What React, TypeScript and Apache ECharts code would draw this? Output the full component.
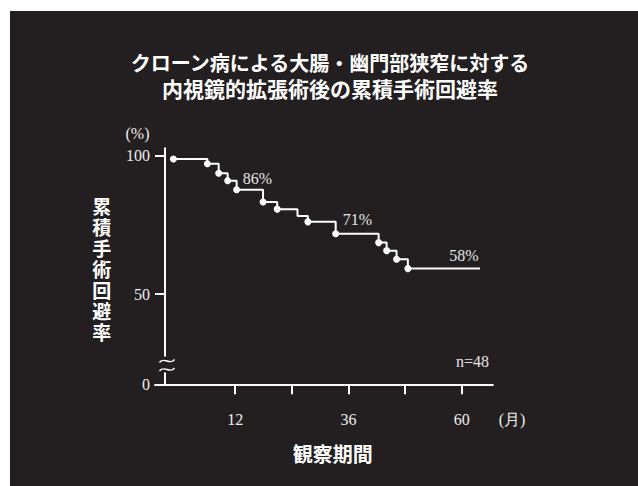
import React, { useEffect, useRef } from "react";
import * as echarts from "echarts";

// ---- data ----
const titleLines = ["クローン病による大腸・幽門部狭窄に対する", "内視鏡的拡張術後の累積手術回避率"];
const yAxisTitle = "累積手術回避率";
const xAxisTitle = "観察期間";
const yUnit = "(%)";
const xUnit = "(月)";

// step curve (months, %)
const curveMonths = [-1.1, 6.1, 8.5, 10.4, 12.3, 17.9, 20.9, 25.2, 27.4, 33.3, 42.4, 44.1, 46.2, 48.6, 63.9];
const curveValues = [98.8, 97.1, 93.7, 91.0, 87.7, 83.3, 80.7, 78.2, 76.1, 71.8, 68.6, 65.7, 62.6, 59.2, 59.2];
// event dots
const dotMonths = [-1.1, 6.1, 8.5, 10.4, 12.3, 17.9, 20.9, 27.4, 33.3, 42.4, 44.1, 46.2, 48.6];
const dotValues = [98.8, 97.1, 93.7, 91.0, 87.7, 83.3, 80.7, 76.1, 71.8, 68.6, 65.7, 62.6, 59.2];

// annotations
const noteTexts = ["86%", "71%", "58%", "n=48"];
const noteMonths = [16.7, 37.9, 60.5, 62.3];
const noteValues = [91.8, 77.0, 64.1, 25.5];

// ticks
const xTickValues = [12, 24, 36, 48, 60];
const xLabelValues = [12, 36, 60];
const yTickValues = [50, 100];
const yLabelValues = [0, 50, 100];

const X_MIN = -5;
const X_MAX = 66.6;
const Y_BREAK_MIN = 17.37; // axis bottom shown as "0" (broken axis)
const Y_MAX = 102.7;

const BG = "#231f20";
const FG = "#ffffff";
const SERIF = "'Liberation Serif', 'Times New Roman', serif";
const CJK = "'Noto Sans CJK JP', 'Noto Sans', sans-serif";

export default function App() {
  const ref = useRef<HTMLDivElement>(null);

  useEffect(() => {
    if (!ref.current) return;
    const chart = echarts.init(ref.current, null, { renderer: "svg" });

    const yLabelPos = yLabelValues.map((v) => (v === 0 ? Y_BREAK_MIN : v));

    const tilde = (cy: number) => ({
      type: "bezierCurve",
      z: 101,
      shape: { x1: 149.5, y1: cy + 1.5, cpx1: 154, cpy1: cy - 5, cpx2: 160, cpy2: cy + 5, x2: 164.5, y2: cy - 1.5 },
      style: { stroke: FG, lineWidth: 1.5, fill: null },
    });

    const yTitleChars = yAxisTitle.split("").map((ch, i) => ({
      type: "text",
      z: 100,
      style: {
        text: ch,
        x: 91.7,
        y: 194.5 + i * 21,
        align: "center",
        verticalAlign: "middle",
        lineHeight: 20,
        fill: FG,
        font: `bold 19px ${CJK}`,
      },
    }));

    chart.setOption({
      animation: false,
      backgroundColor: BG,
      grid: { left: 145, top: 137.3, width: 337.8, height: 236 },
      xAxis: {
        type: "value",
        min: X_MIN,
        max: X_MAX,
        axisLine: { show: true, onZero: false, lineStyle: { color: FG, width: 2 } },
        axisTick: { show: true, customValues: xTickValues, length: 10, lineStyle: { color: FG, width: 2 } },
        axisLabel: {
          show: true,
          customValues: xLabelValues,
          margin: 27,
          color: "#eeeeee",
          fontSize: 16,
          fontFamily: SERIF,
        },
        splitLine: { show: false },
      },
      yAxis: {
        type: "value",
        min: Y_BREAK_MIN,
        max: Y_MAX,
        offset: -10,
        axisLine: { show: true, onZero: false, lineStyle: { color: FG, width: 2 } },
        axisTick: { show: true, customValues: yTickValues, length: 10, lineStyle: { color: FG, width: 2 } },
        axisLabel: {
          show: true,
          customValues: yLabelPos,
          margin: 15,
          color: "#eeeeee",
          fontSize: 16,
          fontFamily: SERIF,
          formatter: (v: number) => (v < 20 ? String(yLabelValues[0]) : String(Math.round(v))),
        },
        splitLine: { show: false },
      },
      series: [
        {
          type: "line",
          step: "end",
          data: curveMonths.map((m, i) => [m, curveValues[i]]),
          showSymbol: false,
          lineStyle: { color: FG, width: 2 },
          z: 3,
        },
        {
          type: "scatter",
          data: dotMonths.map((m, i) => [m, dotValues[i]]),
          symbolSize: 7,
          itemStyle: { color: FG, opacity: 1 },
          z: 4,
          markPoint: {
            symbol: "circle",
            symbolSize: 0,
            data: noteTexts.map((t, i) => ({ name: t, coord: [noteMonths[i], noteValues[i]] })),
            label: {
              show: true,
              position: "inside",
              formatter: (p: any) => p.name,
              color: "#e6e6e6",
              fontSize: 16,
              fontFamily: SERIF,
            },
          },
        },
      ],
      graphic: [
        {
          type: "text",
          z: 100,
          style: {
            text: titleLines[0],
            x: 320,
            y: 51,
            align: "center",
            verticalAlign: "middle",
            fill: FG,
            font: `bold 20px ${CJK}`,
          },
        },
        {
          type: "text",
          z: 100,
          style: {
            text: titleLines[1],
            x: 320,
            y: 77,
            align: "center",
            verticalAlign: "middle",
            fill: FG,
            font: `bold 21px ${CJK}`,
          },
        },
        {
          type: "text",
          z: 100,
          style: {
            text: yUnit,
            x: 127.5,
            y: 122,
            align: "center",
            verticalAlign: "middle",
            fill: "#eeeeee",
            font: `16px ${SERIF}`,
          },
        },
        ...yTitleChars,
        {
          type: "text",
          z: 100,
          style: {
            text: xUnit,
            x: 502,
            y: 408,
            align: "center",
            verticalAlign: "middle",
            fill: "#eeeeee",
            font: `16px ${SERIF}`,
          },
        },
        {
          type: "text",
          z: 100,
          style: {
            text: xAxisTitle,
            x: 322.7,
            y: 442,
            align: "center",
            verticalAlign: "middle",
            fill: FG,
            font: `bold 20px ${CJK}`,
          },
        },
        {
          type: "rect",
          z: 100,
          shape: { x: 149, y: 345.5, width: 12, height: 16 },
          style: { fill: BG },
        },
        tilde(350),
        tilde(358.5),
      ],
    });

    return () => chart.dispose();
  }, []);

  return (
    <div style={{ position: "fixed", left: 0, top: 0, width: 638, height: 486, background: "#ffffff" }}>
      <div ref={ref} style={{ position: "absolute", left: 10, top: 11, width: 628, height: 475 }} />
    </div>
  );
}
